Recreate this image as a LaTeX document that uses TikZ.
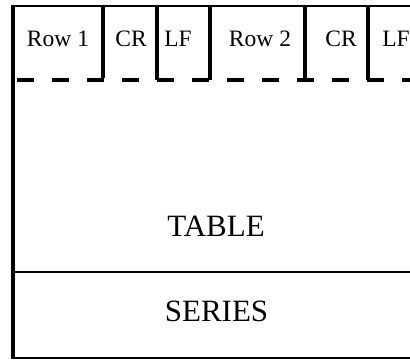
\documentclass[tikz,border=0pt]{standalone}
\usepackage{fontspec}
\setmainfont{Liberation Serif}
\begin{document}
\begin{tikzpicture}[x=1pt,y=-1pt,
  cell/.style={font=\fontsize{23.5}{23.5}\selectfont, inner sep=0pt, anchor=center},
  big/.style={font=\fontsize{31}{31}\selectfont, inner sep=0pt, anchor=center},
  wall/.style={line width=3.3pt},
  thinwall/.style={line width=2pt},
  dashline/.style={line width=3.2pt, dash pattern=on 17pt off 18pt, dash phase=31pt}]
\useasboundingbox[fill=white] (0,0) rectangle (410,362);
% outer frame (open on the right)
\draw[thinwall] (13,6) -- (411,6);
\draw[wall] (13,4.5) -- (13,359);
\draw[line width=1.5pt] (13,358) -- (411,358);
% field dividers
\foreach \x/\b in {103/78,157/80,210/80,305/80,368/80}
  \draw[wall] (\x,6) -- (\x,\b);
% dashed line under records
\draw[dashline] (13,80) -- (411,80);
% TABLE / SERIES separator
\draw[line width=2.6pt] (13,272) -- (411,272);
% labels
\node[cell] (r1) at (58,39) {Row 1};
\node[cell] (cr1) at (131,39) {CR};
\node[cell] (lf1) at (178,39) {LF};
\node[cell] (r2) at (260,39) {Row 2};
\node[cell] (cr2) at (341,39) {CR};
\node[cell] (lf2) at (396,39) {LF};
\node[big] (table) at (216,226) {TABLE};
\node[big] (series) at (216.5,311) {SERIES};
\end{tikzpicture}
\end{document}
